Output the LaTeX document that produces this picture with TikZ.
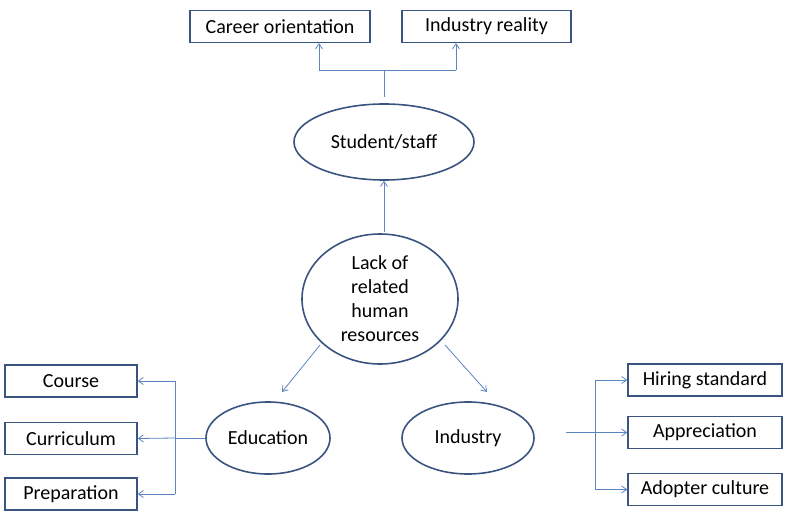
\documentclass[tikz,border=0pt]{standalone}
\usepackage{fontspec}
\setmainfont{Carlito}
\usetikzlibrary{shapes.geometric,arrows.meta}
\definecolor{bd}{HTML}{3A5480}
\definecolor{ar}{HTML}{5B86BF}
\newcommand{\myfont}{\fontsize{20}{24}\selectfont}
\begin{document}
\begin{tikzpicture}[x=1pt,y=-1pt,
  every node/.style={font=\myfont},
  box/.style={draw=bd,line width=1.4pt,minimum height=32pt,inner sep=2pt},
  ell/.style={draw=bd,line width=1.6pt,ellipse,inner sep=0pt},
  con/.style={draw=ar,line width=0.8pt},
  arr/.style={con,-{Straight Barb[length=5pt,width=7pt]}}]
\useasboundingbox (0,0) rectangle (796,522);
\node[box,minimum width=180pt] (co) at (280,26.5) {Career orientation};
\node[box,minimum width=169pt] (ir) at (486.5,26.5) {Industry reality};
\node[ell,minimum width=180pt,minimum height=76pt] (ss) at (384,142) {Student/staff};
\node[ell,minimum width=156pt,minimum height=130pt,align=center] (la) at (380,299) {Lack of\\related\\human\\resources};
\node[ell,minimum width=124pt,minimum height=72pt] (ed) at (268,438) {Education};
\node[ell,minimum width=132pt,minimum height=72pt] (in) at (468,438) {Industry};
\node[box,minimum width=132pt] (cs) at (71,381) {Course};
\node[box,minimum width=132pt] (cu) at (71,438.5) {Curriculum};
\node[box,minimum width=132pt] (pr) at (71,494) {Preparation};
\node[box,minimum width=154pt] (hs) at (705,380) {Hiring standard};
\node[box,minimum width=154pt] (ap) at (705,432.5) {Appreciation};
\node[box,minimum width=154pt] (ac) at (705,489.5) {Adopter culture};
\coordinate (t0) at (384,97);
\coordinate (t1) at (384,70);
\draw[con] (t0) -- (t1);
\draw[con] (319,70) -- (456,70);
\draw[arr] (319,70) -- (co.south -| 319,0);
\draw[arr] (456,70) -- (ir.south -| 456,0);
\coordinate (lb) at (384,232);
\draw[arr] (lb) -- (ss.south);
\coordinate (l1) at (320,345);
\coordinate (l2) at (445,345);
\draw[arr] (l1) -- (282,392);
\draw[arr] (l2) -- (487,392);
\draw[con] (ed.west) -- (175,438);
\draw[con] (175,381) -- (175,494);
\draw[arr] (175,381) -- (cs.east);
\draw[arr] (175,438) -- (cu.east);
\draw[arr] (175,494) -- (pr.east);
\draw[con] (566,432.5) -- (595,432.5);
\draw[con] (595,380) -- (595,489.5);
\draw[arr] (595,380) -- (hs.west);
\draw[arr] (595,432.5) -- (ap.west);
\draw[arr] (595,489.5) -- (ac.west);
\end{tikzpicture}
\end{document}
